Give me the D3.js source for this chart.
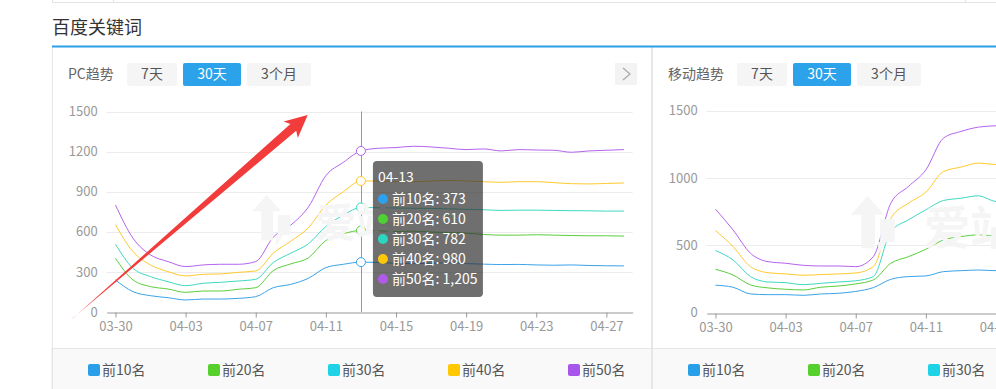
<!DOCTYPE html>
<html>
<head>
<meta charset="utf-8">
<script src="https://cdn.jsdelivr.net/npm/d3@7"></script>
<style>
  body { margin: 0; background: #fff; }
  svg { display: block; font-family: "Noto Sans CJK SC", "Noto Sans", sans-serif; }
</style>
</head>
<body>
<div id="vis-holder"></div>
<script>
// categories
const dates = ["03-30","03-31","04-01","04-02","04-03","04-04","04-05","04-06","04-07","04-08",
               "04-09","04-10","04-11","04-12","04-13","04-14","04-15","04-16","04-17","04-18",
               "04-19","04-20","04-21","04-22","04-23","04-24","04-25","04-26","04-27","04-28"];
const seriesNames = ["前10名", "前20名", "前30名", "前40名", "前50名"];
const rangeButtons = ["7天", "30天", "3个月"];

// PC trend values
const pcTop10 = [240,152,122,107,90,97,97,102,115,182,207,252,332,357,373,370,365,362,365,368,362,358,355,356,352,350,352,348,346,345];
const pcTop20 = [402,240,190,172,147,157,157,170,182,310,360,405,535,585,610,608,602,605,598,595,590,580,575,575,578,575,572,570,570,568];
const pcTop30 = [507,327,265,227,197,215,222,232,245,370,440,510,640,725,782,780,778,776,775,772,768,765,760,762,762,760,758,757,755,755];
const pcTop40 = [652,452,352,302,270,282,285,297,307,440,530,630,800,900,980,980,975,975,980,985,980,975,970,975,975,968,960,958,962,965];
const pcTop50 = [801,552,427,377,340,352,357,357,377,560,650,785,1020,1120,1205,1225,1230,1240,1235,1225,1215,1220,1205,1215,1212,1210,1195,1205,1210,1215];

// mobile trend values (only the visible part)
const mTop10 = [204,189,139,134,134,129,139,144,158,186,248,268,273,305,312,317,312,312];
const mTop20 = [322,280,206,184,174,169,189,198,214,243,367,416,471,540,565,578,570,568];
const mTop30 = [461,392,268,228,223,208,218,228,237,268,602,689,764,833,850,868,825,820];
const mTop40 = [610,491,342,297,288,278,283,288,295,342,700,813,895,1048,1081,1111,1100,1098];
const mTop50 = [769,615,441,379,367,352,347,347,342,416,813,937,1061,1296,1346,1378,1388,1390];

const pcTicks = [0, 300, 600, 900, 1200, 1500];
const mTicks = [0, 500, 1000, 1500];

const lineColors = ["#3aa3e9", "#5bce3c", "#3ed8c1", "#ffca2c", "#b463ef"];
const legendColors = ["#2a9fe9", "#55d02c", "#1fd3e6", "#ffc800", "#a855ec"];
const hoverIndex = 14;

const width = 996, height = 389;

const svg = d3.select("#vis-holder")
  .append("svg")
  .attr("width", width)
  .attr("height", height);

// top table fragment
svg.append("path")
  .attr("d", "M52.5,0V2.5H996M113.5,0V2.5M965.5,0V2.5")
  .attr("fill", "none").attr("stroke", "#e3e3e3");

// section title
svg.append("text")
  .attr("x", 52).attr("y", 34)
  .attr("font-size", 18).attr("fill", "#333")
  .text("百度关键词");

// panels
function panel(x0, x1) {
  svg.append("rect")
    .attr("x", x0).attr("y", 348.5)
    .attr("width", x1 - x0).attr("height", 45)
    .attr("fill", "#f9f9f9").attr("stroke", "#e6e6e6");
  svg.append("path")
    .attr("d", `M${x0 + 0.5},47V389M${x1 - 0.5},47V389`)
    .attr("stroke", "#e6e6e6").attr("fill", "none");
}
panel(52, 652);
panel(652, 1100);

svg.append("rect")
  .attr("x", 52).attr("y", 45.5).attr("width", 944).attr("height", 2)
  .attr("fill", "#2b9fe8");

function header(x, label, btnX) {
  svg.append("text")
    .attr("x", x).attr("y", 74).attr("dy", "0.35em")
    .attr("font-size", 14).attr("fill", "#666")
    .text(label);
  const widths = [50, 58, 64];
  let bx = btnX;
  rangeButtons.forEach((b, i) => {
    const active = i === 1;
    svg.append("rect")
      .attr("x", bx).attr("y", 63).attr("width", widths[i]).attr("height", 23)
      .attr("rx", 2)
      .attr("fill", active ? "#2ba2ea" : "#f5f5f5");
    svg.append("text")
      .attr("x", bx + widths[i] / 2).attr("y", 74.5).attr("dy", "0.35em")
      .attr("text-anchor", "middle")
      .attr("font-size", 14)
      .attr("fill", active ? "#fff" : "#555")
      .text(b);
    bx += widths[i] + 6;
  });
}
header(68, "PC趋势", 127);
header(668, "移动趋势", 737);

// next button on the pc panel
svg.append("rect")
  .attr("x", 615).attr("y", 63).attr("width", 22).attr("height", 22)
  .attr("fill", "#f3f3f3");
svg.append("path")
  .attr("d", "M623,68L630,74L623,80")
  .attr("fill", "none").attr("stroke", "#aaa").attr("stroke-width", 1.3);

// watermark
function watermark(x, y, size) {
  const g = svg.append("g")
    .attr("transform", `translate(${x},${y})`)
    .attr("fill", "#f5f5f5");
  const s = size / 44;
  g.append("path")
    .attr("transform", `scale(${s})`)
    .attr("d", "M14,0L30,18H21V50H8V18H-2Z M26,22H40V44H32L24,56V44H26Z");
  g.append("text")
    .attr("x", 68 * s).attr("y", 46 * s)
    .attr("font-size", size).attr("font-weight", "bold")
    .text("爱站");
}

function drawChart(cfg) {
  const x = d3.scalePoint()
    .domain(dates)
    .range([cfg.left, cfg.left + 526])
    .padding(0.5);
  const y = d3.scaleLinear()
    .domain([0, 1500])
    .range([cfg.bottom, cfg.top]);

  const g = svg.append("g");

  // grid
  g.selectAll(".grid")
    .data(cfg.ticks.filter(d => d > 0))
    .enter().append("line")
    .attr("x1", cfg.left).attr("x2", cfg.left + 526)
    .attr("y1", d => Math.round(y(d)) + 0.5).attr("y2", d => Math.round(y(d)) + 0.5)
    .attr("stroke", "#ececec");

  watermark(cfg.markX, cfg.markY, cfg.markSize);

  // y axis labels
  g.append("g")
    .attr("transform", `translate(${cfg.left},0)`)
    .call(d3.axisLeft(y).tickValues(cfg.ticks).tickFormat(d3.format("d")).tickSize(0).tickPadding(9))
    .call(a => a.select(".domain").remove())
    .call(a => a.selectAll("text").attr("fill", "#999").attr("font-size", 13)
                .attr("font-family", "\"Noto Sans CJK SC\", sans-serif"));

  // x axis
  g.append("g")
    .attr("transform", `translate(0,${Math.round(cfg.bottom) + 0.5})`)
    .call(d3.axisBottom(x)
      .tickValues(dates.filter((d, i) => i % 4 === 0))
      .tickSize(5).tickSizeOuter(0).tickPadding(4))
    .call(a => a.select(".domain").attr("stroke", "#999"))
    .call(a => a.selectAll(".tick line").attr("stroke", "#999"))
    .call(a => a.selectAll("text").attr("fill", "#999").attr("font-size", 13)
                .attr("font-family", "\"Noto Sans CJK SC\", sans-serif"));

  // lines
  const line = d3.line()
    .x((d, i) => x(dates[i]))
    .y(d => y(d))
    .curve(d3.curveMonotoneX);

  g.selectAll(".series")
    .data(cfg.series)
    .enter().append("path")
    .attr("d", d => line(d))
    .attr("fill", "none")
    .attr("stroke", (d, i) => lineColors[i])
    .attr("stroke-width", 1);

  // legend (items past the window edge are left out)
  seriesNames.forEach((name, i) => {
    const lx = cfg.legendX + i * 120;
    if (lx > width) return;
    svg.append("rect")
      .attr("x", lx).attr("y", 364).attr("width", 12).attr("height", 12)
      .attr("rx", 2).attr("fill", legendColors[i]);
    svg.append("text")
      .attr("x", lx + 14).attr("y", 370).attr("dy", "0.35em")
      .attr("font-size", 14).attr("fill", "#555")
      .text(name);
  });

  return { x, y, g };
}

const pc = drawChart({
  left: 106.7, top: 111.5, bottom: 312, ticks: pcTicks,
  series: [pcTop10, pcTop20, pcTop30, pcTop40, pcTop50],
  legendX: 88, markX: 254, markY: 195, markSize: 40
});

drawChart({
  left: 706.7, top: 110.7, bottom: 312.7, ticks: mTicks,
  series: [mTop10, mTop20, mTop30, mTop40, mTop50],
  legendX: 688, markX: 853, markY: 196, markSize: 46
});

// hover state on 04-13 (pc chart)
const pcSeries = [pcTop10, pcTop20, pcTop30, pcTop40, pcTop50];
const hx = pc.x(dates[hoverIndex]);
pc.g.append("line")
  .attr("x1", Math.round(hx) + 0.5).attr("x2", Math.round(hx) + 0.5)
  .attr("y1", pc.y(1500)).attr("y2", pc.y(0))
  .attr("stroke", "#999");

pc.g.selectAll(".hover")
  .data(pcSeries)
  .enter().append("circle")
  .attr("cx", hx)
  .attr("cy", d => pc.y(d[hoverIndex]))
  .attr("r", 4.5)
  .attr("fill", "#fff")
  .attr("stroke", (d, i) => lineColors[i]);

// tooltip
const tip = svg.append("g").attr("transform", `translate(${hx + 12},161)`);
tip.append("rect")
  .attr("width", 110).attr("height", 136).attr("rx", 4)
  .attr("fill", "rgba(50,50,50,0.7)");
tip.append("text")
  .attr("x", 5).attr("y", 16).attr("dy", "0.35em")
  .attr("font-size", 14).attr("fill", "#fff")
  .text(dates[hoverIndex]);
const tipDots = ["#2da0ee", "#4fd033", "#2ad6c0", "#fdc70c", "#b05be8"];
seriesNames.forEach((name, i) => {
  const ty = 38 + i * 20;
  tip.append("circle")
    .attr("cx", 10).attr("cy", ty).attr("r", 5)
    .attr("fill", tipDots[i]);
  tip.append("text")
    .attr("x", 19).attr("y", ty).attr("dy", "0.35em")
    .attr("font-size", 14).attr("fill", "#fff")
    .text(`${name}: ${d3.format(",")(pcSeries[i][hoverIndex])}`);
});

// red annotation arrow
svg.append("path")
  .attr("d", "M72,318.8L72.9,318.2L290.4,124L283.6,121.5L307.7,115L297.8,137.9L296.2,130.8Z")
  .attr("fill", "#f23c3c");
</script>
</body>
</html>
